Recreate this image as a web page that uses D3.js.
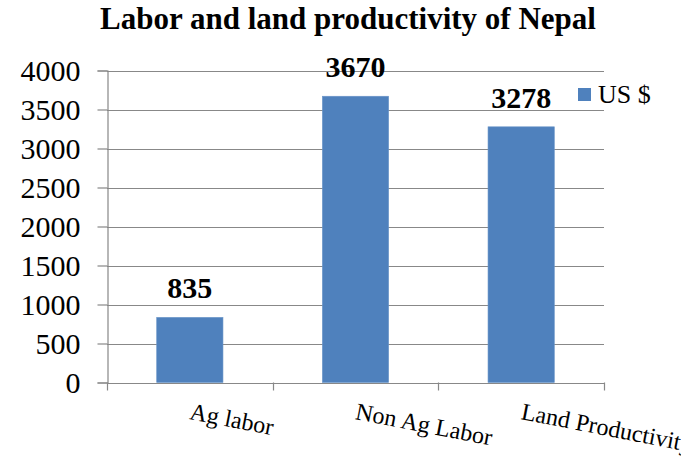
<!DOCTYPE html>
<html>
<head>
<meta charset="utf-8">
<script src="https://cdn.jsdelivr.net/npm/d3@7/dist/d3.min.js"></script>
<style>
  html, body { margin: 0; padding: 0; background: #fff; }
  svg { display: block; }
</style>
</head>
<body>
<svg id="chart" width="681" height="459"></svg>
<script>
// Productivity figures (US $)
const categories = ["Ag labor", "Non Ag Labor", "Land Productivity"];
const values = [835, 3670, 3278];
const yTicks = [0, 500, 1000, 1500, 2000, 2500, 3000, 3500, 4000];
const seriesName = "US $";
const titleText = "Labor and land productivity of Nepal";

const FONT = "'Liberation Serif', 'Times New Roman', Times, serif";
const svg = d3.select("#chart").style("font-family", FONT);
const plot = { left: 107, right: 604, top: 70.5, bottom: 382.5 };
const gridColor = "#888888";
const barColor = "#4F81BD";

const x = d3.scaleBand().domain(categories).range([plot.left, plot.right]).paddingInner(0).paddingOuter(0);
const y = d3.scaleLinear().domain([0, 4000]).range([plot.bottom, plot.top]);

// Title
svg.append("text")
  .attr("x", 348)
  .attr("y", 29)
  .attr("text-anchor", "middle")
  .style("font-family", FONT)
  .style("font-size", "31px")
  .style("font-weight", "bold")
  .attr("fill", "#000")
  .text(titleText);

// Horizontal gridlines
svg.append("g")
  .selectAll("line")
  .data(yTicks)
  .join("line")
  .attr("x1", plot.left)
  .attr("x2", plot.right)
  .attr("y1", d => Math.round(y(d)) + 0.5)
  .attr("y2", d => Math.round(y(d)) + 0.5)
  .attr("stroke", gridColor)
  .attr("stroke-width", 1.2);

// Y axis
const yAxis = d3.axisLeft(y).tickValues(yTicks).tickSize(10).tickPadding(17).tickFormat(d3.format("d"));
const yg = svg.append("g").attr("transform", `translate(${plot.left + 0.5},0)`).call(yAxis);
yg.attr("font-family", null).attr("font-size", null);
yg.select(".domain").attr("stroke", gridColor).attr("stroke-width", 1.2);
yg.selectAll(".tick line").attr("stroke", gridColor).attr("stroke-width", 1.2);
yg.selectAll(".tick text")
  .style("font-family", FONT)
  .style("font-size", "30px")
  .attr("fill", "#000");

// X axis: ticks at category boundaries
const xg = svg.append("g");
xg.append("line")
  .attr("x1", plot.left).attr("x2", plot.right)
  .attr("y1", Math.round(plot.bottom) + 0.5).attr("y2", Math.round(plot.bottom) + 0.5)
  .attr("stroke", gridColor).attr("stroke-width", 1.2);
const boundaries = categories.map(c => x(c)).concat([x(categories[categories.length - 1]) + x.bandwidth()]);
xg.selectAll("line.xt")
  .data(boundaries)
  .join("line")
  .attr("class", "xt")
  .attr("x1", d => Math.round(d) + 0.5)
  .attr("x2", d => Math.round(d) + 0.5)
  .attr("y1", plot.bottom)
  .attr("y2", plot.bottom + 8)
  .attr("stroke", gridColor)
  .attr("stroke-width", 1.2);

// Bars
const barW = x.bandwidth() * 0.4;
svg.append("g")
  .selectAll("rect")
  .data(values)
  .join("rect")
  .attr("x", (d, i) => x(categories[i]) + (x.bandwidth() - barW) / 2)
  .attr("y", d => y(d))
  .attr("width", barW)
  .attr("height", d => y(0) - y(d))
  .attr("fill", barColor)
  .attr("stroke", "#6a95c8")
  .attr("stroke-width", 0.6);

// Value labels
svg.append("g")
  .selectAll("text")
  .data(values)
  .join("text")
  .attr("x", (d, i) => x(categories[i]) + x.bandwidth() / 2)
  .attr("y", d => y(d) - 19)
  .attr("text-anchor", "middle")
  .style("font-family", FONT)
  .style("font-size", "30px")
  .style("font-weight", "bold")
  .attr("fill", "#000")
  .text(d => d);

// Category labels, slanted; the last one runs past the right edge
svg.append("g")
  .selectAll("text")
  .data(categories)
  .join("text")
  .attr("transform", c => `translate(${x(c) + x.bandwidth() / 2 - 1},419) rotate(11)`)
  .attr("text-anchor", "start")
  .style("font-family", FONT)
  .style("font-size", "24px")
  .attr("fill", "#000")
  .text(c => c);

// Legend
const lg = svg.append("g").attr("transform", "translate(578,88)");
lg.append("rect").attr("width", 13).attr("height", 13).attr("fill", barColor);
lg.append("text")
  .attr("x", 20)
  .attr("y", 15)
  .style("font-family", FONT)
  .style("font-size", "26px")
  .attr("fill", "#000")
  .text(seriesName);
</script>
</body>
</html>
